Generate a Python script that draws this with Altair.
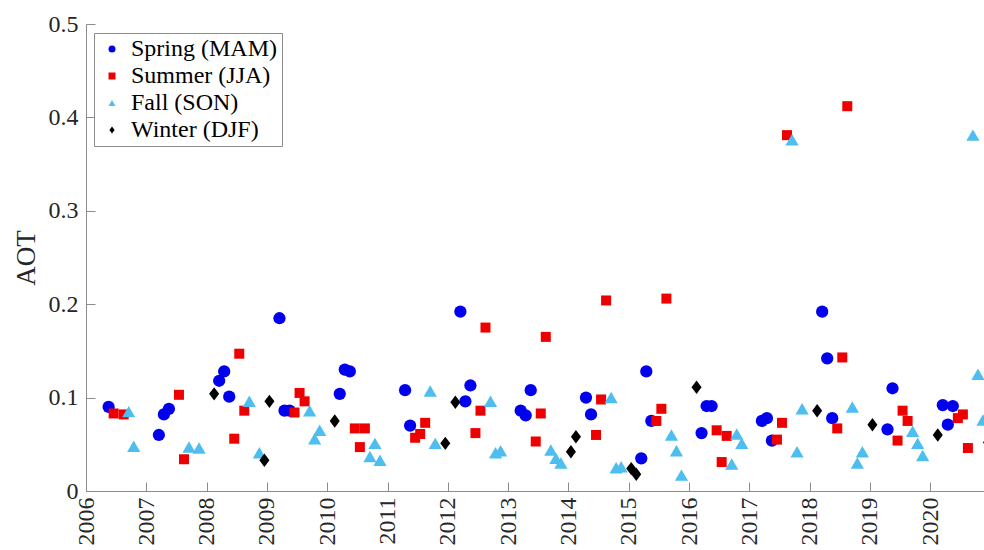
import altair as alt
import pandas as pd

# ---- data (month, AOT) ----
spring_months = ["2006-05", "2007-03", "2007-04", "2007-05", "2008-03", "2008-04", "2008-05",
                 "2009-03", "2009-04", "2009-05", "2010-03", "2010-04", "2010-05", "2011-04", "2011-05",
                 "2012-03", "2012-04", "2012-05", "2013-03", "2013-04", "2013-05", "2014-04", "2014-05",
                 "2015-03", "2015-04", "2015-05", "2016-03", "2016-04", "2016-05", "2017-03", "2017-04",
                 "2017-05", "2018-03", "2018-04", "2018-05", "2019-04", "2019-05", "2020-03", "2020-04",
                 "2020-05"]
spring_aot = [0.090, 0.060, 0.082, 0.088, 0.118, 0.128, 0.101,
              0.185, 0.086, 0.086, 0.104, 0.130, 0.128, 0.108, 0.070,
              0.192, 0.096, 0.113, 0.086, 0.081, 0.108, 0.100, 0.082,
              0.035, 0.128, 0.075, 0.062, 0.091, 0.091, 0.075, 0.078,
              0.054, 0.192, 0.142, 0.078, 0.066, 0.110, 0.092, 0.071,
              0.091]

summer_months = ["2006-06", "2006-08", "2007-07", "2007-08", "2008-06", "2008-07", "2008-08",
                 "2009-06", "2009-07", "2009-08", "2010-06", "2010-07", "2010-08", "2011-06", "2011-07",
                 "2011-08", "2012-06", "2012-07", "2012-08", "2013-06", "2013-07", "2013-08", "2014-06",
                 "2014-07", "2014-08", "2015-06", "2015-07", "2015-08", "2016-06", "2016-07", "2016-08",
                 "2017-06", "2017-07", "2017-08", "2018-06", "2018-07", "2018-08", "2019-06", "2019-07",
                 "2019-08", "2020-06", "2020-07", "2020-08"]
summer_aot = [0.083, 0.082, 0.103, 0.034, 0.056, 0.147, 0.086,
              0.084, 0.105, 0.096, 0.067, 0.047, 0.067, 0.057, 0.061,
              0.073, 0.062, 0.086, 0.175, 0.053, 0.083, 0.165, 0.060,
              0.098, 0.204, 0.075, 0.088, 0.206, 0.065, 0.031, 0.059,
              0.055, 0.073, 0.381, 0.067, 0.143, 0.412, 0.054, 0.086,
              0.075, 0.078, 0.082, 0.046]

fall_months = ["2006-09", "2006-10", "2007-09", "2007-11", "2008-09", "2008-11", "2009-09",
               "2009-10", "2009-11", "2010-09", "2010-10", "2010-11", "2011-09", "2011-10", "2012-09",
               "2012-10", "2012-11", "2013-09", "2013-10", "2013-11", "2014-09", "2014-10", "2014-11",
               "2015-09", "2015-10", "2015-11", "2016-09", "2016-10", "2016-11", "2017-09", "2017-10",
               "2017-11", "2018-09", "2018-10", "2018-11", "2019-09", "2019-10", "2019-11", "2020-09",
               "2020-10", "2020-11"]
fall_aot = [0.085, 0.048, 0.047, 0.046, 0.096, 0.041, 0.086,
            0.056, 0.065, 0.037, 0.051, 0.033, 0.107, 0.051, 0.096,
            0.041, 0.043, 0.044, 0.035, 0.030, 0.100, 0.025, 0.026,
            0.060, 0.043, 0.017, 0.029, 0.061, 0.051, 0.376, 0.042,
            0.088, 0.090, 0.030, 0.042, 0.064, 0.051, 0.038, 0.381,
            0.125, 0.076]

winter_months = ["2008-02", "2008-12", "2009-01", "2010-02", "2011-12", "2012-02", "2014-01",
                 "2014-02", "2015-01", "2015-02", "2016-02", "2018-02", "2019-01", "2020-02",
                 "2020-12"]
winter_aot = [0.104, 0.033, 0.096, 0.075, 0.051, 0.095, 0.042,
              0.058, 0.024, 0.018, 0.111, 0.086, 0.071, 0.060,
              0.052]

seasons = ["Spring (MAM)", "Summer (JJA)", "Fall (SON)", "Winter (DJF)"]
year_ticks = list(range(2006, 2021))
aot_ticks = [0, 0.1, 0.2, 0.3, 0.4, 0.5]

rows = []
for name, months, vals in zip(seasons,
                              [spring_months, summer_months, fall_months, winter_months],
                              [spring_aot, summer_aot, fall_aot, winter_aot]):
    for m, v in zip(months, vals):
        y, mo = m.split("-")
        rows.append({"season": name, "t": int(y) + (int(mo) - 0.5) / 12.0, "aot": v})
df = pd.DataFrame(rows)

FONT = "Liberation Serif"
AXC = "#8c8c8c"
TXT = "#262626"
DIAMOND = "M0,-1L0.75,0L0,1L-0.75,0Z"
size_expr = ("datum.season == 'Spring (MAM)' ? 150 : datum.season == 'Summer (JJA)' ? 100 : "
             "datum.season == 'Fall (SON)' ? 175 : 180")

xscale = alt.Scale(domain=[2006, 2020.892], nice=False, zero=False)
yscale = alt.Scale(domain=[0, 0.5], nice=False)

points = alt.Chart(df).transform_window(idx="row_number()").transform_calculate(
    sz=size_expr
).mark_point(filled=True, opacity=1, clip=True, strokeWidth=0).encode(
    x=alt.X("t:Q", scale=xscale,
            axis=alt.Axis(orient="bottom", values=year_ticks, format="d", labelAngle=270,
                          labelFont=FONT, labelFontSize=24, labelColor=TXT, labelPadding=6,
                          ticks=False, domainColor=AXC, domainWidth=1, grid=False, title=None,
                          labelOverlap=False, labelFlush=False)),
    y=alt.Y("aot:Q", scale=yscale,
            axis=alt.Axis(orient="left", values=aot_ticks,
                          labelExpr="datum.value == 0 ? '0' : format(datum.value, '.1f')",
                          labelFont=FONT, labelFontSize=24, labelColor=TXT, labelPadding=8,
                          ticks=False, domainColor=AXC, domainWidth=1, grid=False,
                          title="AOT", titleFont=FONT, titleFontSize=27, titleFontWeight="normal",
                          titleColor=TXT, titlePadding=8, labelFlush=False, labelOverlap=False)),
    color=alt.Color("season:N", sort=seasons,
                    scale=alt.Scale(domain=seasons, range=["#0000EE", "#EE0000", "#4DBEEE", "#000000"]),
                    legend=alt.Legend(orient="none", legendX=8, legendY=9, title=None,
                                      labelFont=FONT, labelFontSize=24, labelColor="#000000",
                                      strokeColor=AXC, fillColor="#ffffff", padding=4,
                                      symbolOffset=2, labelOffset=7, rowPadding=3,
                                      symbolSize=49, symbolStrokeWidth=0, labelLimit=400)),
    shape=alt.Shape("season:N", sort=seasons,
                    scale=alt.Scale(domain=seasons, range=["circle", "square", "triangle-up", DIAMOND])),
    size=alt.Size("sz:Q", scale=None),
    order=alt.Order("idx:Q"),
)

ticks = alt.Chart(df).mark_point(opacity=0).encode(
    x=alt.X("t:Q", scale=xscale,
            axis=alt.Axis(orient="bottom", values=year_ticks, offset=-9, tickSize=9, tickColor=AXC,
                          labels=False, domain=False, grid=False, title=None)),
    y=alt.Y("aot:Q", scale=yscale,
            axis=alt.Axis(orient="left", values=aot_ticks, offset=-9, tickSize=9, tickColor=AXC,
                          labels=False, domain=False, grid=False, title=None)),
)

chart = alt.layer(points, ticks).resolve_axis(x="independent", y="independent").properties(
    width=898, height=467,
    padding={"left": 86, "top": 24, "right": 0, "bottom": 59},
    autosize=alt.AutoSizeParams(type="none"),
    background="#ffffff",
).configure_view(stroke=None)

chart.save("out.html", embed_options={"renderer": "svg", "actions": False})
